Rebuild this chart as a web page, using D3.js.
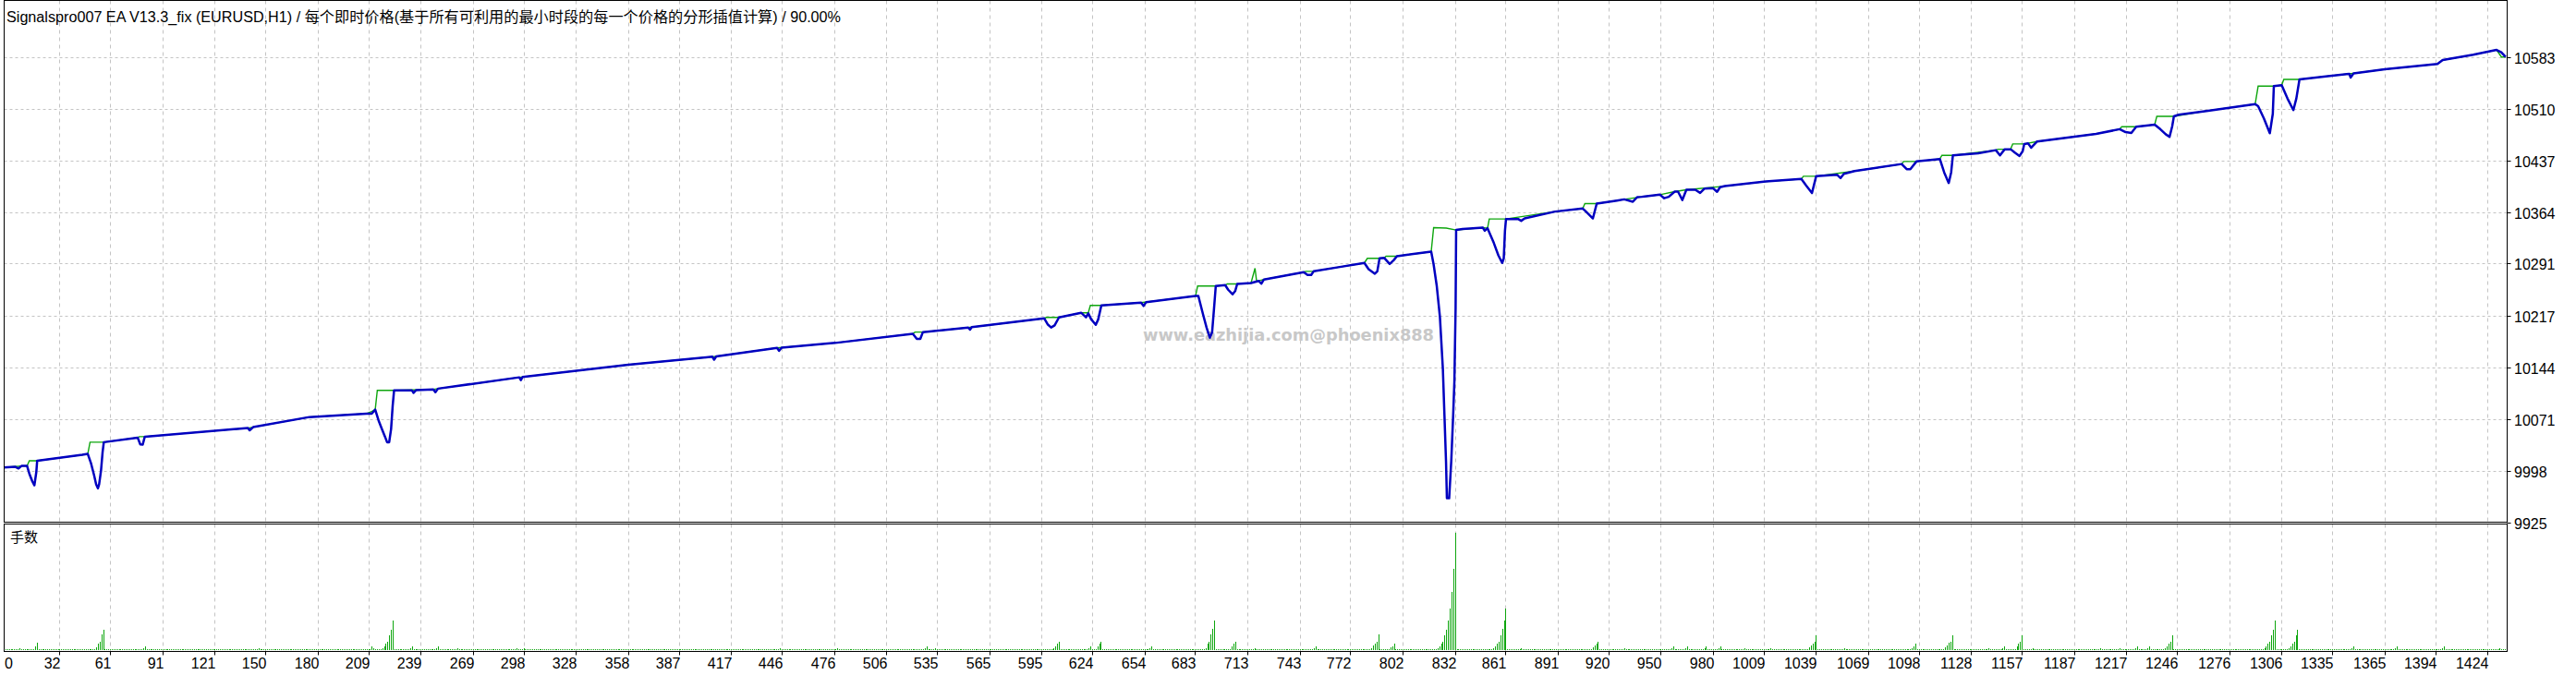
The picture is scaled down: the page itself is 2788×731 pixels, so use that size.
<!DOCTYPE html>
<html>
<head>
<meta charset="utf-8">
<script src="https://cdn.jsdelivr.net/npm/d3@7"></script>
<style>
  body { margin: 0; background: #fff; }
  svg text { font-family: "Liberation Sans", "Noto Sans CJK SC", sans-serif; fill: #000; }
  .grid line { stroke: #c4c4c4; stroke-width: 1; }
</style>
</head>
<body>
<script>
// balance curve (blue) as [trade no, value]
const balancePts = [
  [0, 10002.4], [6.7, 10003.3], [8.5, 10001.1], [10.2, 10004.6], [13.4, 10004.6], [14.7, 9993.7], [16.4, 9982.8],
  [17.6, 9977.2], [18.7, 9995.9], [19.2, 10012], [45, 10020.3], [48.2, 10021.6], [50, 10008.9], [51.8, 9991.6],
  [53, 9978.5], [54, 9972.9], [54.7, 9978.5], [55.8, 9998.1], [56.7, 10024.2], [57.4, 10038.2], [76.8, 10044.7],
  [78.3, 10035.1], [79.7, 10034.7], [80.9, 10046], [140, 10058.2], [141, 10055], [143, 10059.5], [175.3, 10073.8],
  [208, 10078.7], [211, 10078.5], [213, 10084.3], [215.1, 10067.7], [216.8, 10056.9], [218.6, 10046], [219.8, 10038.2],
  [221, 10038.2], [222.1, 10056.9], [223, 10089.5], [223.8, 10111.5], [234, 10111.7], [235, 10108], [236.5, 10112],
  [246.3, 10113], [247.5, 10109], [249, 10114], [295.6, 10130], [296.5, 10126], [297.5, 10130.5], [358.1, 10147.9],
  [406.3, 10159.1], [407.3, 10155], [408.5, 10159.5], [443.4, 10171.7], [444.5, 10167.5], [446, 10172], [476.7, 10178.7],
  [521.2, 10191.7], [523.5, 10184.5], [525.5, 10184.5], [527, 10194], [553, 10200.5], [554, 10197.5], [555, 10201],
  [596.5, 10213.5], [598.5, 10205], [600.5, 10200.5], [602.5, 10203.5], [605, 10214.8], [617.7, 10221.4], [620.5, 10215],
  [621.8, 10220.5], [623.5, 10212], [626.1, 10204.4], [627.5, 10212], [629.3, 10231.8], [652.1, 10235.7], [653.5, 10231],
  [655, 10236.5], [683.3, 10245.2], [684.9, 10245.2], [687.5, 10220], [689.6, 10200.5], [691.5, 10186.1], [692.8, 10193.9],
  [693.8, 10224.4], [694.9, 10259.2], [700.3, 10260.5], [702, 10254], [704.5, 10247.5], [706, 10252], [707.2, 10262.2],
  [715.1, 10263.5], [719.5, 10266.5], [721, 10262.5], [722.5, 10268.5], [745.3, 10278.8], [747.5, 10274.9], [749.6, 10274.9],
  [751, 10280], [766, 10286.2], [780.1, 10291.9], [782.5, 10283], [786.1, 10276.6], [787.5, 10280], [788.8, 10298.4],
  [791.5, 10299], [794.6, 10290.5], [797, 10296], [798.7, 10301.4], [818.4, 10307.9], [819.8, 10289.6], [821.6, 10259.2],
  [823.4, 10215.7], [825.1, 10141.7], [826, 10076.4], [826.9, 10011.2], [827.4, 9958.9], [828.7, 9958.9], [829.9, 10011.2],
  [831, 10076.4], [831.7, 10124.3], [832.4, 10228.8], [832.7, 10338.5], [836.4, 10339.8], [848, 10341.9], [849.1, 10337.5],
  [850.7, 10341], [854.3, 10320.2], [856.9, 10302.7], [859.1, 10291.9], [860, 10298.4], [860.7, 10337.5], [861.3, 10354.1],
  [868.2, 10354.1], [870, 10351.5], [872, 10355], [889.4, 10364.6], [905.3, 10368.9], [907, 10365], [911.1, 10354.9],
  [913.3, 10375.8], [924.9, 10380.2], [929.1, 10381.9], [934, 10378.5], [936.5, 10385], [939.2, 10385.5], [949.5, 10388.5],
  [952, 10383.5], [954.6, 10385.5], [958, 10392.8], [959.9, 10392.8], [962.4, 10381], [964.7, 10395.4], [969.8, 10395.4],
  [972.6, 10391], [975, 10397], [980, 10397.6], [982.3, 10392.5], [984, 10399], [986.7, 10400.6], [1010.2, 10407.1],
  [1030.6, 10410.7], [1033.5, 10401], [1036.7, 10390.8], [1039.1, 10414.6], [1051, 10416.8], [1053.1, 10412], [1055, 10418],
  [1061.1, 10422], [1088.1, 10431.9], [1091, 10424.6], [1093.1, 10424.6], [1096.6, 10435.5], [1110, 10439], [1112.5, 10420],
  [1115.1, 10405], [1116.5, 10420], [1117.5, 10444.2], [1132, 10447.2], [1142.1, 10451.5], [1144.5, 10444.2], [1147.2, 10452.8],
  [1150.6, 10452.8], [1153, 10448], [1155.7, 10443.3], [1157.5, 10450], [1158.4, 10460.3], [1160.6, 10461], [1162.4, 10455],
  [1165.8, 10463.8], [1199.6, 10474.6], [1213.1, 10481.2], [1216.5, 10477], [1219.8, 10475.9], [1222.6, 10484.7],
  [1233.2, 10487.7], [1236.5, 10481], [1239.5, 10474], [1241.7, 10470.3], [1243.2, 10485], [1244.2, 10499.4],
  [1246.9, 10501.7], [1263.8, 10507.3], [1290.8, 10516.8], [1292.5, 10513.8], [1295.8, 10496.4], [1299.2, 10475.5],
  [1300.9, 10503], [1301.5, 10542.1], [1306, 10543.4], [1309.3, 10524.7], [1312.7, 10508.2], [1314.4, 10524.7],
  [1316.2, 10551.7], [1331.3, 10556], [1344.8, 10559.5], [1345.5, 10554.3], [1347.2, 10560], [1365.1, 10566],
  [1395.3, 10573.4], [1398.3, 10579], [1415.8, 10586.5], [1429.2, 10593.4], [1431.9, 10590], [1434.4, 10583.4]
]

// equity curve (green), mostly hidden under the blue one
const equityPts = [
  [0, 10002.4], [10.2, 10004.6], [13.4, 10004.6], [14.7, 10012], [19.2, 10012], [45, 10020.3], [48.2, 10021.6],
  [49.5, 10038.2], [57.4, 10038.2], [76.8, 10044.7], [77.8, 10046.1], [80.9, 10046.1], [140, 10058.2], [143, 10059.5],
  [175.3, 10073.8], [208, 10078.7], [211, 10081.7], [213, 10084.3], [214.2, 10111.5], [223.8, 10111.5], [246.3, 10113],
  [295.6, 10130], [358.1, 10147.9], [406.3, 10159.1], [443.4, 10171.7], [476.7, 10178.7], [521.2, 10191.7], [522.5, 10194],
  [527, 10194], [553, 10200.5], [596.5, 10213.5], [597.8, 10214.8], [605, 10214.8], [617.7, 10221.4], [621.8, 10221.4],
  [623, 10231.8], [629.3, 10231.8], [652.1, 10235.7], [683.3, 10245.2], [684.5, 10259.2], [694.9, 10259.2], [700.3, 10260.5],
  [701.5, 10262.2], [707.2, 10262.2], [715.1, 10263.5], [717.4, 10284.4], [718.3, 10266], [722.5, 10268.5], [745.3, 10278.8],
  [746.5, 10280], [751, 10280], [766, 10286.2], [780.1, 10291.9], [781.8, 10298.4], [788.8, 10298.4], [791.5, 10299],
  [792.5, 10301.4], [798.7, 10301.4], [818.4, 10307.9], [819.8, 10341.9], [827, 10341.2], [832.7, 10338.5], [848, 10341.9],
  [850.7, 10341], [851.7, 10354.1], [861.3, 10354.1], [889.4, 10364.6], [905.3, 10368.9], [906.5, 10375.8], [913.3, 10375.8],
  [924.9, 10380.2], [929.1, 10381.9], [939.2, 10385.5], [949.5, 10388.5], [958, 10392.8], [964.7, 10395.4], [986.7, 10400.6],
  [1010.2, 10407.1], [1030.6, 10410.7], [1031.8, 10414.6], [1039.1, 10414.6], [1061.1, 10422], [1088.1, 10431.9],
  [1089.3, 10435.5], [1096.6, 10435.5], [1110, 10439], [1111.2, 10444.2], [1117.5, 10444.2], [1142.1, 10451.5],
  [1143.3, 10452.8], [1150.6, 10452.8], [1151.8, 10460.3], [1158.4, 10460.3], [1165.8, 10463.8], [1199.6, 10474.6],
  [1213.1, 10481.2], [1214.3, 10484.7], [1222.6, 10484.7], [1233.2, 10487.7], [1234.4, 10499.4], [1244.2, 10499.4],
  [1263.8, 10507.3], [1290.8, 10516.8], [1292.5, 10542.1], [1301.5, 10542.1], [1306, 10543.4], [1307.2, 10551.7],
  [1316.2, 10551.7], [1331.3, 10556], [1344.8, 10559.5], [1365.1, 10566], [1395.3, 10573.4], [1398.3, 10579],
  [1415.8, 10586.5], [1429.2, 10593.4], [1432, 10583.4], [1434.4, 10583.4]
]

// lots panel: every trade opens baseLot, martingale bursts listed below
const tradeCount = 1435
const baseLot = 0.01
const burstFirst = [9, 18, 53, 80, 146, 211, 217, 233, 248, 260, 294, 298, 445, 478, 528, 534, 602, 622, 627, 657,
  689, 704, 717, 751, 784, 795, 822, 854, 870, 911, 929, 956, 964, 975, 983, 998, 1013, 1035, 1055, 1094, 1113, 1138,
  1146, 1154, 1163, 1202, 1213, 1222, 1229, 1239, 1296, 1310, 1346, 1371, 1398, 1431]
const burstLots = [
  [0.02], [0.04, 0.08], [0.03, 0.07, 0.09, 0.17, 0.22], [0.02, 0.04], [0.02], [0.04, 0.02],
  [0.02, 0.04, 0.07, 0.09, 0.16, 0.22, 0.32], [0.02, 0.04], [0.02, 0.04], [0.02], [0.02], [0.02], [0.02], [0.02],
  [0.02, 0.04], [0.02], [0.02, 0.04, 0.07, 0.09], [0.02, 0.04], [0.04, 0.07, 0.09], [0.02, 0.04],
  [0.02, 0.07, 0.09, 0.17, 0.23, 0.32], [0.04, 0.07, 0.09], [0.02], [0.02, 0.04], [0.02, 0.05, 0.07, 0.09, 0.17],
  [0.03, 0.04, 0.07], [0.02, 0.04, 0.07, 0.09, 0.16, 0.22, 0.32, 0.45, 0.63, 0.88, 1.27],
  [0.02, 0.04, 0.07, 0.09, 0.16, 0.23, 0.32, 0.45], [0.02], [0.03, 0.05, 0.07, 0.09], [0.02], [0.02, 0.04],
  [0.02, 0.04], [0.02, 0.04], [0.02, 0.04], [0.02], [0.02], [0.03, 0.05, 0.07, 0.09, 0.16], [0.02], [0.02, 0.04, 0.07],
  [0.03, 0.05, 0.08, 0.09, 0.16], [0.02], [0.02, 0.04], [0.04, 0.07, 0.09, 0.16], [0.02], [0.02], [0.02],
  [0.02, 0.04], [0.02, 0.04], [0.02, 0.04, 0.07, 0.09, 0.16], [0.02, 0.04, 0.07, 0.09, 0.16, 0.22, 0.32],
  [0.02, 0.04, 0.07, 0.09, 0.16, 0.22], [0.02, 0.04], [0.02, 0.04], [0.02, 0.04], [0.02]
]

const xTicks = [0, 32, 61, 91, 121, 150, 180, 209, 239, 269, 298, 328, 358, 387, 417, 446, 476, 506, 535, 565, 595,
  624, 654, 683, 713, 743, 772, 802, 832, 861, 891, 920, 950, 980, 1009, 1039, 1069, 1098, 1128, 1157, 1187, 1217,
  1246, 1276, 1306, 1335, 1365, 1394, 1424]
const yTicks = [9925, 9998, 10071, 10144, 10217, 10291, 10364, 10437, 10510, 10583]

const titleText = 'Signalspro007 EA V13.3_fix (EURUSD,H1) / 每个即时价格(基于所有可利用的最小时段的每一个价格的分形插值计算) / 90.00%'
const lotsLabel = '手数'
const watermark = 'www.eazhijia.com@phoenix888'

drawChart()

function drawChart() {
  var width = 2788
  var height = 731
  var left = 4.5, right = 2713.5
  var top = 0.5, mainBottom = 565.5
  var lotTop = 567.5, lotBottom = 705.5
  var GREEN = '#0ea60e'
  var BLUE = '#0000c0'

  var svg = d3.select('body').append('svg')
    .attr('width', width)
    .attr('height', height)

  svg.append('rect').attr('width', width).attr('height', height).attr('fill', '#fff')

  var x = d3.scaleLinear().domain([0, tradeCount]).range([4, 2713])
  var y = d3.scaleLinear().domain([9925, 10583]).range([565.5, 62])
  var yLot = d3.scaleLinear().domain([0, 1.37]).range([703.5, 566.5])

  // grid
  var grid = svg.append('g').attr('class', 'grid')
  xTicks.slice(1).forEach(function(t) {
    var gx = Math.round(x(t)) + 0.5
    grid.append('line').attr('x1', gx).attr('x2', gx).attr('y1', top).attr('y2', mainBottom)
      .attr('stroke-dasharray', '4,4')
    grid.append('line').attr('x1', gx).attr('x2', gx).attr('y1', lotTop).attr('y2', lotBottom)
      .attr('stroke-dasharray', '4,4')
  })
  yTicks.slice(1).forEach(function(v) {
    var gy = Math.round(y(v)) + 0.5
    grid.append('line').attr('x1', left).attr('x2', right).attr('y1', gy).attr('y2', gy)
      .attr('stroke-dasharray', '3,3')
  })

  // watermark
  svg.append('text')
    .attr('x', 1237).attr('y', 369)
    .attr('textLength', 315).attr('lengthAdjust', 'spacingAndGlyphs')
    .style('font-family', '"DejaVu Sans", sans-serif')
    .style('font-weight', 'bold').style('font-size', '17px').style('fill', '#c8c8c8')
    .text(watermark)

  // lines
  var line = d3.line().x(function(d) { return x(d[0]) }).y(function(d) { return y(d[1]) })

  svg.append('path').datum(equityPts)
    .attr('d', line).attr('fill', 'none').attr('stroke', GREEN).attr('stroke-width', 1.4)

  svg.append('path').datum(balancePts)
    .attr('d', line).attr('fill', 'none').attr('stroke', BLUE).attr('stroke-width', 2.5)
    .attr('stroke-linejoin', 'round')

  // lots
  var lots = []
  for (var i = 1; i <= tradeCount; i++) lots.push({ trade: i, lot: baseLot })
  burstFirst.forEach(function(start, k) {
    burstLots[k].forEach(function(l, j) { lots[start + j - 1].lot = l })
  })

  svg.append('g')
    .selectAll('rect')
    .data(lots)
    .enter().append('rect')
      .attr('x', function(d) { return Math.round(x(d.trade)) })
      .attr('width', 1)
      .attr('y', function(d) { return Math.round(yLot(d.lot)) })
      .attr('height', function(d) { return Math.max(1, Math.round(yLot(0) - yLot(d.lot))) })
      .attr('fill', GREEN)

  // frames
  svg.append('rect').attr('x', left).attr('y', top).attr('width', right - left).attr('height', mainBottom - top)
    .attr('fill', 'none').attr('stroke', '#000')
  svg.append('rect').attr('x', left).attr('y', lotTop).attr('width', right - left).attr('height', lotBottom - lotTop)
    .attr('fill', 'none').attr('stroke', '#000')

  // right axis
  yTicks.forEach(function(v) {
    var gy = Math.round(y(v)) + 0.5
    svg.append('line').attr('x1', right).attr('x2', right + 4).attr('y1', gy).attr('y2', gy).attr('stroke', '#000')
    svg.append('text').attr('x', 2721).attr('y', gy + 6)
      .style('font-size', '16px').text(v)
  })

  // bottom axis
  xTicks.forEach(function(t, i) {
    var gx = Math.round(x(t)) + 0.5
    if (i > 0) {
      svg.append('line').attr('x1', gx).attr('x2', gx).attr('y1', lotBottom).attr('y2', lotBottom + 4).attr('stroke', '#000')
    }
    svg.append('text')
      .attr('x', i === 0 ? 5 : gx + 1).attr('y', 724)
      .attr('text-anchor', i === 0 ? 'start' : 'end')
      .style('font-size', '16px').text(t)
  })

  // title and panel label
  svg.append('text').attr('x', 7).attr('y', 24)
    .attr('textLength', 903).attr('lengthAdjust', 'spacingAndGlyphs')
    .style('font-size', '16px').text(titleText)

  svg.append('text').attr('x', 11).attr('y', 587)
    .style('font-size', '15px').text(lotsLabel)
}
</script>
</body>
</html>
